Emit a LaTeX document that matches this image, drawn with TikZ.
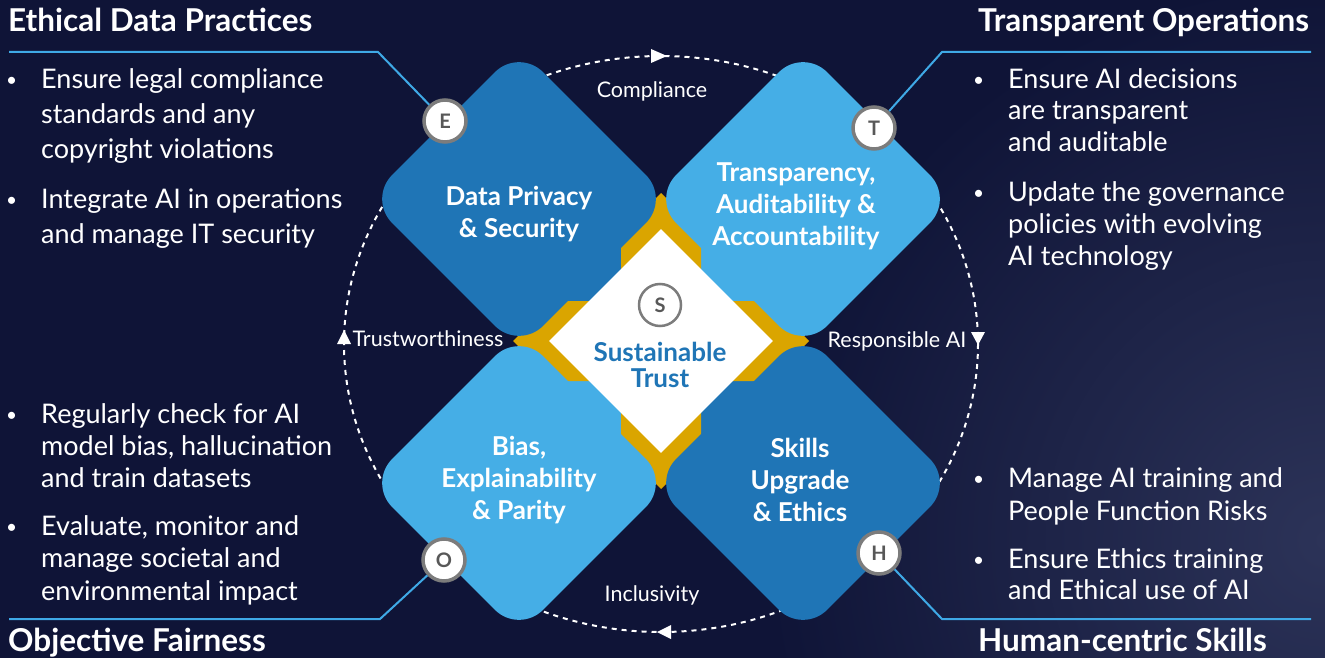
\documentclass[tikz,border=0pt]{standalone}
\usepackage{fontspec}
\setmainfont{Lato}
\usetikzlibrary{shapes.geometric,positioning}
\definecolor{navy}{HTML}{0F1437}
\definecolor{haze}{HTML}{2C3358}
\definecolor{deepblue}{HTML}{1F75B6}
\definecolor{skyblue}{HTML}{45AEE6}
\definecolor{amber}{HTML}{DAA500}
\definecolor{rulecol}{HTML}{3FA9E6}
\definecolor{ringgray}{HTML}{7C7C7C}
\definecolor{lettergray}{HTML}{585858}
\newcommand{\setpx}[2]{\fontsize{#1pt}{#2pt}\selectfont}
\newcommand{\bul}{\llap{\raisebox{2pt}{\setpx{19}{19}\textbullet}\hspace{24pt}}}
\tikzset{
  tilebox/.style={diamond, aspect=1, inner sep=0pt, minimum size=302pt,
                  rounded corners=34pt},
  tiletext/.style={text=white, align=center, inner sep=0pt,
                   font=\setpx{26}{32}\bfseries},
  badge/.style={circle, fill=white, draw=ringgray, line width=3.5pt,
                minimum size=42pt, inner sep=0pt, text=lettergray,
                font=\setpx{20}{20}\bfseries},
  heading/.style={text=white, inner sep=0pt, anchor=base west,
                  font=\setpx{31.5}{34}\bfseries},
  points/.style={text=white, inner sep=0pt, anchor=base west, align=left},
  ringlabel/.style={text=white, inner sep=0pt, anchor=base, font=\setpx{21.5}{24}},
  ruleline/.style={draw=rulecol, line width=2pt},
  ringline/.style={draw=white, line width=2pt, dash pattern=on 5pt off 5pt}}

\begin{document}
\begin{tikzpicture}[x=1pt, y=-1pt]
  \useasboundingbox (0,0) rectangle (1325,658);
  % backdrop with a faint glow on the right
  \begin{scope}
    \clip (0,0) rectangle (1325,658);
    \fill[navy] (0,0) rectangle (1325,658);
    \shade[inner color=haze, outer color=navy] (1325,540) circle (560);
  \end{scope}

  % dashed cycle round the tiles
  \draw[ringline] (661,344) ellipse [x radius=317, y radius=288];
  \fill[white] (667,56) -- (651,49) -- (651,63) -- cycle;
  \fill[white] (978,345) -- (971,332) -- (985,332) -- cycle;
  \fill[white] (657,632) -- (671,625) -- (671,639) -- cycle;
  \fill[white] (344,330) -- (337,344) -- (351,344) -- cycle;

  % blue wedges and gold cross under the centre
  \fill[deepblue] (661,341) -- (521,341) -- (661,201) -- cycle;
  \fill[skyblue] (661,341) -- (801,341) -- (661,201) -- cycle;
  \fill[skyblue] (661,341) -- (521,341) -- (661,481) -- cycle;
  \fill[deepblue] (661,341) -- (801,341) -- (661,481) -- cycle;
  \fill[amber] (661,193) -- (701,233) -- (701,301) -- (769,301) -- (809,341)
    -- (769,381) -- (701,381) -- (701,449) -- (661,489) -- (621,449)
    -- (621,381) -- (553,381) -- (513,341) -- (553,301) -- (621,301)
    -- (621,233) -- cycle;

  % the four tiles
  \node[tilebox, fill=deepblue] (privacy) at (519,199) {};
  \node[tilebox, fill=skyblue] (audit) at (803,199) {};
  \node[tilebox, fill=skyblue] (bias) at (519,483) {};
  \node[tilebox, fill=deepblue] (skills) at (803,483) {};
  \node[diamond, aspect=1, fill=white, inner sep=0pt, minimum size=224pt] (core) at (661,341) {};

  \node[tiletext] (privacytxt) at (519,214) {Data Privacy\\\& Security};
  \node[tiletext] (audittxt) at (796,206) {Transparency,\\Auditability \&\\Accountability};
  \node[tiletext] (biastxt) at (519,480) {Bias,\\Explainability\\\& Parity};
  \node[tiletext] (skillstxt) at (800,480) {Skills\\Upgrade\\\& Ethics};
  \node[tiletext, text=deepblue, font=\setpx{26}{26}\bfseries] (coretxt) at (660,365) {Sustainable\\Trust};
  \node[badge, line width=2.5pt] (badgeS) at (660,305) {S};

  % labels on the cycle
  \node[ringlabel] (compl) at (652,98) {Compliance};
  \node[ringlabel] (trust) at (428,346) {Trustworthiness};
  \node[ringlabel] (respai) at (897,347) {Responsible AI};
  \node[ringlabel] (incl) at (652,601) {Inclusivity};

  % corner badges and their rules
  \node[badge] (badgeE) at (445,121) {E};
  \node[badge] (badgeT) at (874,128) {T};
  \node[badge] (badgeO) at (444,560) {O};
  \node[badge] (badgeH) at (879,553) {H};
  \coordinate (eEnd) at (9,52);
  \coordinate (eBend) at (378,52);
  \coordinate (tEnd) at (1311,52);
  \coordinate (tBend) at (942,52);
  \coordinate (oEnd) at (9,619);
  \coordinate (oBend) at (380,619);
  \coordinate (hEnd) at (1311,619);
  \coordinate (hBend) at (942,619);
  \draw[ruleline] (eEnd) -- (eBend) -- (badgeE);
  \draw[ruleline] (tEnd) -- (tBend) -- (badgeT);
  \draw[ruleline] (oEnd) -- (oBend) -- (badgeO);
  \draw[ruleline] (hEnd) -- (hBend) -- (badgeH);

  % headings
  \node[heading] (hEthical) at (8,32) {Ethical Data Practices};
  \node[heading] (hTransp) at (978,32) {Transparent Operations};
  \node[heading] (hFair) at (8,651) {Objective Fairness};
  \node[heading] (hHuman) at (978,651) {Human-centric Skills};

  % bullet points (placed by the baseline of their last line)
  \node[points, font=\setpx{27}{34.6}] (ptA) at (41,158) {\bul Ensure legal compliance\\standards and any\\copyright violations};
  \node[points, font=\setpx{27}{35}] (ptB) at (41,243) {\bul Integrate AI in operations\\and manage IT security};
  \node[points, font=\setpx{27}{32}] (ptC) at (41,487) {\bul Regularly check for AI\\model bias, hallucination\\and train datasets};
  \node[points, font=\setpx{27}{32.5}] (ptD) at (41,600) {\bul Evaluate, monitor and\\manage societal and\\environmental impact};
  \node[points, font=\setpx{27}{31.2}] (ptE) at (1008,151) {\bul Ensure AI decisions\\are transparent\\and auditable};
  \node[points, font=\setpx{27}{32}] (ptF) at (1008,265) {\bul Update the governance\\policies with evolving\\AI technology};
  \node[points, font=\setpx{27}{33}] (ptG) at (1008,520) {\bul Manage AI training and\\People Function Risks};
  \node[points, font=\setpx{27}{31}] (ptH) at (1008,599) {\bul Ensure Ethics training\\and Ethical use of AI};
\end{tikzpicture}
\end{document}
